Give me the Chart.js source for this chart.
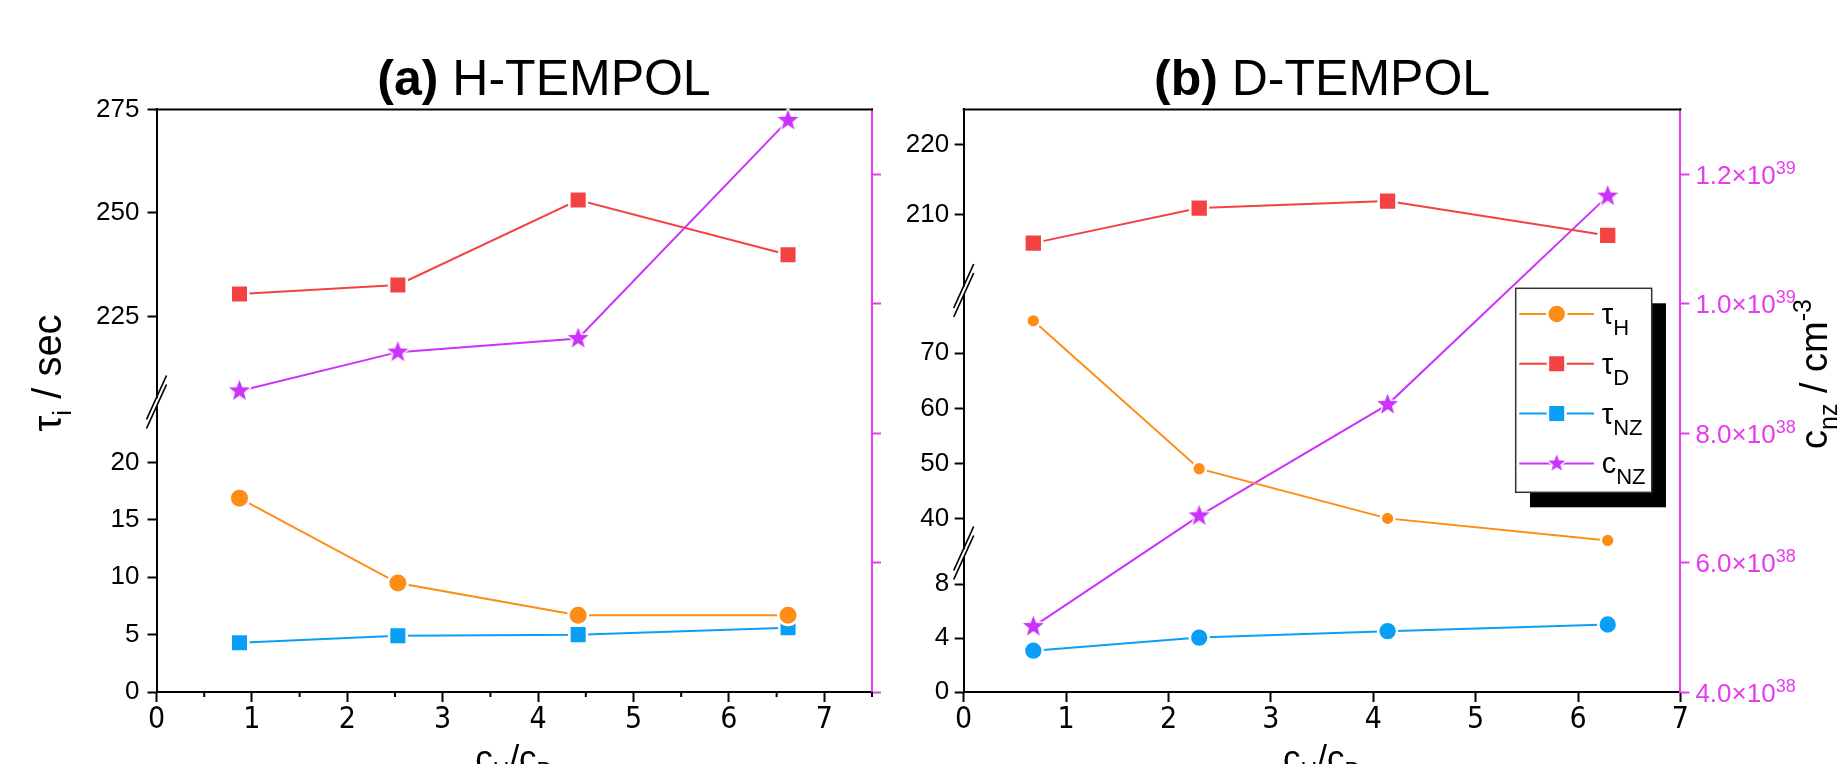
<!DOCTYPE html>
<html><head><meta charset="utf-8"><title>H-TEMPOL / D-TEMPOL</title>
<script src="https://cdn.jsdelivr.net/npm/chart.js"></script>
<style>
html,body{margin:0;padding:0;background:#fff;}
body{width:1845px;height:764px;position:relative;overflow:hidden;}
canvas{position:absolute;top:0;}
#cA{left:0;} #cB{left:900px;}
</style></head><body>
<canvas id="cA" width="900" height="764"></canvas>
<canvas id="cB" width="945" height="764"></canvas>
<script>
// ---------------- data ----------------
const xTicks = [0, 1, 2, 3, 4, 5, 6, 7];
const xMinorTicksA = [0.5, 1.5, 2.5, 3.5, 4.5, 5.5, 6.5, 7.5];
const cTicks = [4e38, 6e38, 8e38, 1.0e39, 1.2e39];

// (a) H-TEMPOL
const xA = [0.87, 2.53, 4.42, 6.62];
const tauH_A = [16.9, 9.5, 6.7, 6.7];
const tauD_A = [230.4, 232.6, 253.1, 239.9];
const tauNZ_A = [4.3, 4.9, 5.0, 5.6];
const cNZ_A = [8.65e38, 9.25e38, 9.46e38, 1.283e39];
const yTicksA_up = [225, 250, 275];
const yTicksA_lo = [0, 5, 10, 15, 20];

// (b) D-TEMPOL
const xB = [0.68, 2.30, 4.14, 6.29];
const tauH_B = [75.9, 49.1, 40.1, 36.1];
const tauD_B = [205.9, 210.9, 211.9, 207.0];
const tauNZ_B = [3.06, 4.03, 4.51, 5.0];
const cNZ_B = [5.01e38, 6.72e38, 8.44e38, 1.166e39];
const yTicksB_up = [210, 220];
const yTicksB_mid = [40, 50, 60, 70];
const yTicksB_lo = [0, 4, 8];

const legendLabels = [['τ', 'H'], ['τ', 'D'], ['τ', 'NZ'], ['c', 'NZ']];

// ---------------- styling ----------------
const FONT = '"Liberation Sans", Arial, Helvetica, sans-serif';
const NARROW = '"Liberation Sans Narrow", "Arial Narrow", "DejaVu Sans Condensed", "Liberation Sans", sans-serif';
const ORANGE = '#FF8C14', RED = '#F44242', BLUE = '#0A9FF7', PURPLE = '#CC33FA', MAG = '#E43CEE';
Chart.defaults.font.family = FONT;
Chart.defaults.color = '#000';

function sciParts(v) {
  const e = Math.floor(Math.log10(v) + 1e-9);
  const m = v / Math.pow(10, e);
  return [m.toFixed(1) + '×10', String(e)];
}

function starCanvas(color, R, halo) {
  const size = Math.ceil(2 * (R + halo) + 2);
  const c = document.createElement('canvas'); c.width = size; c.height = size;
  const g = c.getContext('2d'); const cx = size / 2, cy = size / 2;
  g.beginPath();
  for (let i = 0; i < 10; i++) {
    const r = i % 2 ? R * 0.42 : R;
    const a = -Math.PI / 2 + i * Math.PI / 5;
    const px = cx + r * Math.cos(a), py = cy + r * Math.sin(a);
    if (i) g.lineTo(px, py); else g.moveTo(px, py);
  }
  g.closePath();
  g.lineJoin = 'round'; g.lineWidth = 2 * halo; g.strokeStyle = '#fff'; g.stroke();
  g.fillStyle = color; g.fill();
  return c;
}
const starBig = starCanvas(PURPLE, 11, 1.4);
const starLeg = starCanvas(PURPLE, 9, 1.4);

function pts(xs, ys) { return xs.map((x, i) => ({x, y: ys[i]})); }
function ds(label, data, color, axis, style, radius) {
  return { label, data, yAxisID: axis, xAxisID: 'x', borderColor: color, backgroundColor: color,
    borderWidth: 2, pointStyle: style, pointRadius: radius, pointHoverRadius: radius,
    pointBackgroundColor: color, pointBorderColor: '#fff', pointBorderWidth: 2.5,
    fill: false, tension: 0, clip: false };
}
function tickStyle(size, pad, color, family) {
  return { color, font: {family: family || FONT, size}, padding: pad, autoSkip: false, maxRotation: 0, minRotation: 0 };
}
function gridStyle(color, len) {
  return { display: true, drawOnChartArea: false, drawTicks: true, tickLength: len, tickWidth: 2, tickColor: color };
}
function fixTicks(vals) { return s => { s.ticks = vals.map(v => ({value: v})); }; }

function segY(min, max, ticks, weight, stackWeight, width, pad) {
  return { type: 'linear', position: 'left', stack: 'leftStack', weight, stackWeight, min, max,
    afterBuildTicks: fixTicks(ticks), afterFit: s => { s.width = width; },
    ticks: tickStyle(26, pad, '#000'), grid: gridStyle('#000', 9),
    border: {display: true, color: '#000', width: 2} };
}
function xCfg(max) {
  return { type: 'linear', position: 'bottom', min: 0, max,
    afterBuildTicks: fixTicks(xTicks), afterFit: s => { s.height = 72; },
    ticks: tickStyle(30, 0, '#000', NARROW), grid: gridStyle('#000', 10),
    border: {display: true, color: '#000', width: 2} };
}
function cScale(width) {
  const t = tickStyle(26, 6, MAG);
  t.display = false;
  return { type: 'linear', position: 'right', min: 4e38, max: 1.3e39,
    afterBuildTicks: fixTicks(cTicks), afterFit: s => { s.width = width; },
    ticks: t, grid: gridStyle(MAG, 9), border: {display: true, color: MAG, width: 2} };
}

function rich(ctx, parts, x, y, o) {
  const size = o.size, ss = o.subSize || size * 0.66;
  const items = parts.map(([t, k]) => {
    const small = k === 'sub' || k === 'sup';
    const s = small ? ss : size;
    const f = (k === 'b' ? 'bold ' : '') + s + 'px ' + FONT;
    ctx.font = f;
    const dy = k === 'sub' ? (o.subDrop ?? size * 0.25) : k === 'sup' ? -(o.supRise ?? size * 0.42) : 0;
    return { t, f, dy, w: ctx.measureText(t).width };
  });
  const total = items.reduce((a, b) => a + b.w, 0);
  ctx.save();
  ctx.translate(x, y);
  if (o.rotate) ctx.rotate(o.rotate);
  let cx = o.align === 'center' ? -total / 2 : o.align === 'right' ? -total : 0;
  ctx.fillStyle = o.color || '#000'; ctx.textAlign = 'left'; ctx.textBaseline = 'alphabetic';
  items.forEach(it => { ctx.font = it.f; ctx.fillText(it.t, cx, it.dy); cx += it.w; });
  ctx.restore();
}

function drawBreak(ctx, x, y) {
  const hw = 10, hh = 22, g = 4.5;
  ctx.fillStyle = '#fff'; ctx.fillRect(x - 2, y - g + 0.8, 4, 2 * g - 1.6);
  ctx.strokeStyle = '#000'; ctx.lineWidth = 1.7;
  [-g, g].forEach(d => { ctx.beginPath(); ctx.moveTo(x - hw, y + d + hh); ctx.lineTo(x + hw, y + d - hh); ctx.stroke(); });
}

function decor(cfg) {
  return {
    id: 'decor' + cfg.name,
    beforeDatasetsDraw(chart) {
      const {ctx, chartArea: a} = chart;
      ctx.save(); ctx.strokeStyle = '#000'; ctx.lineWidth = 2;
      ctx.beginPath(); ctx.moveTo(a.left - 1, a.top); ctx.lineTo(a.right + 1, a.top); ctx.stroke();
      ctx.restore();
    },
    afterDraw(chart) {
      const {ctx, chartArea: a} = chart;
      ctx.save();
      (cfg.breaks || []).forEach(id => drawBreak(ctx, a.left, chart.scales[id].top));
      if (cfg.minor) {
        const xs = chart.scales.x;
        ctx.strokeStyle = '#000'; ctx.lineWidth = 2;
        cfg.minor.forEach(v => { const px = xs.getPixelForValue(v); ctx.beginPath(); ctx.moveTo(px, a.bottom); ctx.lineTo(px, a.bottom + 5); ctx.stroke(); });
      }
      if (cfg.cLabels) {
        const ys = chart.scales.yR;
        ys.ticks.forEach(t => {
          const py = ys.getPixelForValue(t.value);
          const [m, e] = sciParts(t.value);
          rich(ctx, [[m, 'n'], [e, 'sup']], a.right + 15, py + 9.5, {size: 26, subSize: 18, supRise: 10, color: MAG});
        });
      }
      cfg.text(ctx, chart);
      ctx.restore();
    }
  };
}

function legendMarker(ctx, kind, color, x, y) {
  ctx.fillStyle = color; ctx.strokeStyle = '#fff'; ctx.lineWidth = 2.5;
  if (kind === 'circle') {
    ctx.beginPath(); ctx.arc(x, y, 9.5, 0, Math.PI * 2); ctx.fill(); ctx.stroke();
  } else if (kind === 'rect') {
    const s = 17.5; ctx.beginPath(); ctx.rect(x - s / 2, y - s / 2, s, s); ctx.fill(); ctx.stroke();
  } else {
    ctx.drawImage(kind, x - kind.width / 2, y - kind.height / 2);
  }
}

function drawLegend(ctx) {
  const bx = 615.7, by = 288.3, bw = 136, bh = 204;
  ctx.fillStyle = '#000'; ctx.fillRect(bx + 14.3, by + 15, bw, bh);
  ctx.fillStyle = '#fff'; ctx.fillRect(bx, by, bw, bh);
  ctx.strokeStyle = '#333'; ctx.lineWidth = 1.5; ctx.strokeRect(bx, by, bw, bh);
  const colors = [ORANGE, RED, BLUE, PURPLE];
  const kinds = ['circle', 'rect', 'rect', starLeg];
  legendLabels.forEach((lab, i) => {
    const y = 314 + i * 49.8;
    ctx.strokeStyle = colors[i]; ctx.lineWidth = 2;
    ctx.beginPath(); ctx.moveTo(619.3, y); ctx.lineTo(694, y); ctx.stroke();
    legendMarker(ctx, kinds[i], colors[i], 656.7, y);
    rich(ctx, [[lab[0], 'n'], [lab[1], 'sub']], 701.7, y + 10, {size: 29, subSize: 22, subDrop: 11});
  });
}

// ---------------- chart (a) ----------------
new Chart(document.getElementById('cA'), {
  type: 'line',
  data: { datasets: [
    ds('τH', pts(xA, tauH_A), ORANGE, 'yLo', 'circle', 9.75),
    ds('τD', pts(xA, tauD_A), RED, 'yUp', 'rect', 12.4),
    ds('τNZ', pts(xA, tauNZ_A), BLUE, 'yLo', 'rect', 12.4),
    ds('cNZ', pts(xA, cNZ_A), PURPLE, 'yR', starBig, 12)
  ]},
  options: {
    responsive: false, animation: false, events: [],
    layout: { padding: { left: 56.5, right: 16, top: 109.4, bottom: 0 } },
    plugins: { legend: { display: false }, tooltip: { enabled: false } },
    scales: {
      x: xCfg(7.5),
      yUp: segY(204.32, 275, yTicksA_up, 2, 292.6, 100, 8),
      yLo: segY(0, 25.28, yTicksA_lo, 1, 290, 100, 8),
      yR: cScale(12)
    }
  },
  plugins: [decor({
    name: 'A', breaks: ['yLo'], minor: xMinorTicksA,
    text(ctx, chart) {
      const a = chart.chartArea;
      rich(ctx, [['(a)', 'b'], [' H-TEMPOL', 'n']], 544, 95, {size: 50, align: 'center'});
      rich(ctx, [['τ', 'n'], ['i', 'sub'], [' / sec', 'n']], 61, 373, {size: 40, align: 'center', rotate: -Math.PI / 2});
      rich(ctx, [['c', 'n'], ['H', 'sub'], ['/c', 'n'], ['D', 'sub']], (a.left + a.right) / 2, 770, {size: 35, align: 'center'});
    }
  })]
});

// ---------------- chart (b) ----------------
new Chart(document.getElementById('cB'), {
  type: 'line',
  data: { datasets: [
    ds('τH', pts(xB, tauH_B), ORANGE, 'yMid', 'circle', 6.85),
    ds('τD', pts(xB, tauD_B), RED, 'yUp', 'rect', 12.6),
    ds('τNZ', pts(xB, tauNZ_B), BLUE, 'yLo', 'circle', 9.4),
    ds('cNZ', pts(xB, cNZ_B), PURPLE, 'yR', starBig, 12)
  ]},
  options: {
    responsive: false, animation: false, events: [],
    layout: { padding: { left: 3.7, right: 44.6, top: 109.4, bottom: 0 } },
    plugins: { legend: { display: false }, tooltip: { enabled: false } },
    scales: {
      x: xCfg(7),
      yUp: segY(199.13, 225, yTicksB_up, 3, 181.1, 60, 5.5),
      yMid: segY(33.83, 81.38, yTicksB_mid, 2, 262.5, 60, 5.5),
      yLo: segY(0, 10.3, yTicksB_lo, 1, 139, 60, 5.5),
      yR: cScale(120)
    }
  },
  plugins: [decor({
    name: 'B', breaks: ['yMid', 'yLo'], cLabels: true,
    text(ctx, chart) {
      const a = chart.chartArea;
      rich(ctx, [['(b)', 'b'], [' D-TEMPOL', 'n']], (a.left + a.right) / 2, 95, {size: 50, align: 'center'});
      rich(ctx, [['c', 'n'], ['H', 'sub'], ['/c', 'n'], ['D', 'sub']], (a.left + a.right) / 2, 770, {size: 35, align: 'center'});
      rich(ctx, [['c', 'n'], ['nz', 'sub'], [' / cm', 'n'], ['-3', 'sup']], 927, 374, {size: 38, align: 'center', rotate: -Math.PI / 2});
      drawLegend(ctx);
    }
  })]
});
</script>
</body></html>
